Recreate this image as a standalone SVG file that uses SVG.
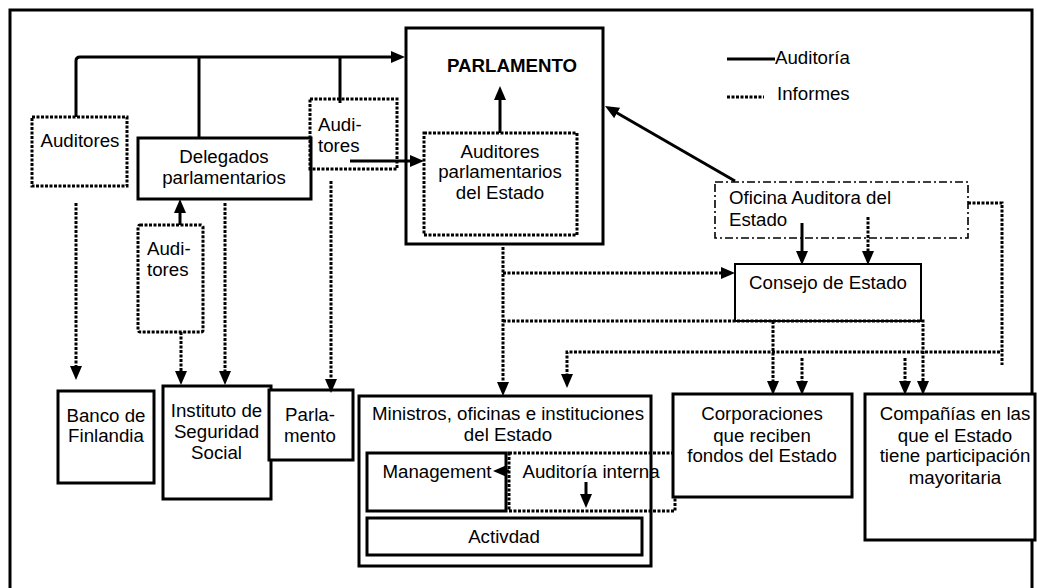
<svg xmlns="http://www.w3.org/2000/svg" width="1037" height="588" viewBox="0 0 1037 588">
  <style>
    text { font-family: "Liberation Sans", Arial, sans-serif; font-size: 18.7px; fill: #000; }
    .c { text-anchor: middle; }
    .b { font-weight: bold; }
    .box { fill: #fff; stroke: #000; stroke-width: 3; }
    .thin { stroke-width: 2; }
    .dot { fill: none; stroke: #000; stroke-width: 3; stroke-dasharray: 3 1.5; }
    .dashdot { fill: none; stroke: #000; stroke-width: 1.6; stroke-dasharray: 8 3 2 3; }
    .solid { fill: none; stroke: #000; stroke-width: 3; }
    .dotted { fill: none; stroke: #000; stroke-width: 3; stroke-dasharray: 3 1.5; }
    .arr { marker-end: url(#ah); }
  </style>
  <defs>
    <marker id="ah" viewBox="0 0 14 12" refX="8" refY="6" markerWidth="14" markerHeight="12" markerUnits="userSpaceOnUse" orient="auto">
      <path d="M0,0 L14,6 L0,12 z" fill="#000" stroke="none"/>
    </marker>
  </defs>

  <rect width="1037" height="588" fill="#fff"/>

  <!-- outer frame -->
  <path d="M10,600 V10 H1032 V600" fill="none" stroke="#000" stroke-width="3"/>

  <!-- legend -->
  <g id="legend">
    <line x1="727" y1="59" x2="775" y2="59" class="solid"/>
    <text x="775" y="64">Auditoría</text>
    <line x1="727" y1="97" x2="764" y2="97" class="dotted"/>
    <text x="777" y="100">Informes</text>
  </g>

  <g id="auditores-left">
    <rect x="32" y="117" width="95" height="69" class="dot"/>
    <text x="80" y="147" class="c">Auditores</text>
  </g>

  <g id="delegados">
    <rect x="138" y="138" width="173" height="61" class="box"/>
    <text x="224" y="163" class="c">Delegados</text>
    <text x="224" y="184" class="c">parlamentarios</text>
  </g>

  <g id="auditores-upper">
    <rect x="310" y="99" width="87" height="70" class="dot"/>
    <text x="318" y="131">Audi-</text>
    <text x="318" y="152">tores</text>
  </g>

  <g id="auditores-lower">
    <rect x="138" y="225" width="65" height="107" rx="2" class="dot"/>
    <text x="147" y="255">Audi-</text>
    <text x="147" y="276">tores</text>
  </g>

  <g id="parlamento">
    <rect x="406" y="28" width="197" height="216" class="box"/>
    <text x="512" y="72" class="c b">PARLAMENTO</text>
    <rect x="424" y="133" width="153" height="102" class="dot"/>
    <text x="500" y="158" class="c">Auditores</text>
    <text x="500" y="178" class="c">parlamentarios</text>
    <text x="500" y="199" class="c">del Estado</text>
  </g>

  <g id="oficina">
    <rect x="715" y="182" width="253" height="56" class="dashdot"/>
    <text x="729" y="204">Oficina Auditora del</text>
    <text x="729" y="226">Estado</text>
  </g>

  <g id="consejo">
    <rect x="735" y="264" width="186" height="57" class="box thin"/>
    <text x="828" y="289" class="c">Consejo de Estado</text>
  </g>

  <g id="banco">
    <rect x="58" y="391" width="96" height="92" class="box"/>
    <text x="106" y="422" class="c">Banco de</text>
    <text x="106" y="442" class="c">Finlandia</text>
  </g>

  <g id="instituto">
    <rect x="163" y="386" width="108" height="113" class="box"/>
    <text x="216.5" y="417" class="c">Instituto de</text>
    <text x="216.5" y="438" class="c">Seguridad</text>
    <text x="216.5" y="459" class="c">Social</text>
  </g>

  <g id="parla-mento">
    <rect x="269" y="390" width="84" height="70" class="box"/>
    <text x="310" y="421" class="c">Parla-</text>
    <text x="310" y="442" class="c">mento</text>
  </g>

  <g id="ministros">
    <rect x="359" y="396" width="292" height="170" class="box"/>
    <text x="508" y="420" class="c">Ministros, oficinas e instituciones</text>
    <text x="508" y="441" class="c">del Estado</text>
    <rect x="367" y="453" width="139" height="58" class="box"/>
    <text x="437" y="478" class="c">Management</text>
    <rect x="509" y="453" width="166" height="58" class="dot"/>
    <text x="591" y="478" class="c">Auditoría interna</text>
    <rect x="367" y="518" width="275" height="37" class="box"/>
    <text x="504" y="543" class="c">Activdad</text>
  </g>

  <g id="corporaciones">
    <rect x="673" y="394" width="179" height="103" class="box"/>
    <text x="762" y="420" class="c">Corporaciones</text>
    <text x="762" y="442" class="c">que reciben</text>
    <text x="762" y="462" class="c">fondos del Estado</text>
  </g>

  <g id="companias">
    <rect x="865" y="394" width="170" height="146" class="box"/>
    <text x="955" y="420" class="c">Compañías en las</text>
    <text x="955" y="442" class="c">que el Estado</text>
    <text x="955" y="462" class="c">tiene participación</text>
    <text x="955" y="484" class="c">mayoritaria</text>
  </g>

  <g id="connectors">
    <!-- audit lines -->
    <path d="M76,117 V61 Q76,57 80,57 H399" class="solid arr"/>
    <path d="M199,138 V57" class="solid"/>
    <path d="M340,103 V57" class="solid"/>
    <path d="M350,161 H418" class="solid arr"/>
    <path d="M500,133 V92" class="solid arr"/>
    <path d="M735,181 L610.2,109" class="solid arr"/>
    <path d="M180,225 V205" class="solid arr"/>
    <path d="M802,223 V259" class="solid arr"/>
    <path d="M586,482 V502" class="solid arr"/>
    <path d="M509,471 H499" class="solid arr"/>

    <!-- report lines -->
    <path d="M76,203 V374" class="dotted arr"/>
    <path d="M181,332 V379" class="dotted arr"/>
    <path d="M225,203 V379" class="dotted arr"/>
    <path d="M331,181 V387" class="dotted arr"/>
    <path d="M503,247 V390" class="dotted arr"/>
    <path d="M503,273 H729" class="dotted arr"/>
    <path d="M503,321 H923 V389" class="dotted arr"/>
    <path d="M773,321 V389" class="dotted arr"/>
    <path d="M968,203 H1002 V365" class="dotted"/>
    <path d="M1000,352 H567 V382" class="dotted arr"/>
    <path d="M802,358 V389" class="dotted arr"/>
    <path d="M905,358 V389" class="dotted arr"/>
    <path d="M868,217 V259" class="dotted arr"/>
  </g>
</svg>
